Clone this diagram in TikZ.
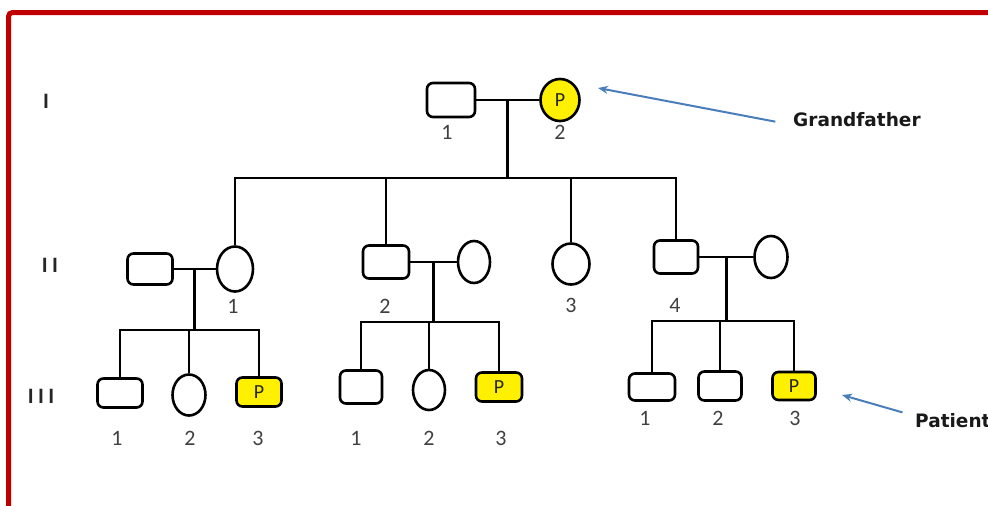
\documentclass[tikz,border=0pt]{standalone}
\usepackage{fontspec}
\setmainfont{Carlito}
\newfontfamily\romfont[LetterSpace=20]{Carlito}
\newfontfamily\tagfont{DejaVu Sans}
\usetikzlibrary{shapes.geometric,arrows.meta,calc}
\definecolor{framered}{HTML}{C00000}
\definecolor{ptrblue}{HTML}{4A7EBB}
\definecolor{hityellow}{HTML}{FFF000}
\tikzset{
	kin/.style={line width=2.7pt},
	male/.style={draw,line width=2.6pt,rounded corners=6pt,minimum width=45pt,minimum height=31pt,inner sep=0pt},
	female/.style={draw,line width=2.6pt,ellipse,minimum width=34pt,minimum height=42pt,inner sep=0pt},
	hit/.style={fill=hityellow,font=\fontsize{20}{20}\selectfont,text=black!85},
	num/.style={font=\fontsize{22}{22}\selectfont,text=black!75,inner sep=0pt},
	gen/.style={font=\romfont\bfseries\fontsize{22}{22}\selectfont,text=black!85,inner sep=0pt},
	tag/.style={font=\tagfont\bfseries\fontsize{18.5}{18.5}\selectfont,text=black!90,inner sep=0pt,anchor=west},
	pointer/.style={draw=ptrblue,line width=2pt,-{Stealth[length=10pt,width=8pt]}}
}
\begin{document}
\begin{tikzpicture}[x=1pt,y=-1pt]
		\useasboundingbox (0,0) rectangle (988,506);
		\begin{scope}
			\clip (0,0) rectangle (988,506);
			\draw[framered,line width=5pt,rounded corners=4pt] (8.5,12.5) rectangle (1100,620);
		\end{scope}
		\node[gen] (g1) at (46,101) {I};
		\node[gen] (g2) at (50,265) {II};
		\node[gen] (g3) at (41,396) {III};

		\node[male,minimum width=48pt,minimum height=34pt] (i1) at (451,100) {};
		\node[female,hit,minimum width=39pt] (i2) at (560,100) {P};
		\node[num] (i1n) at (447,132) {1};
		\node[num] (i2n) at (560,132) {2};
		\draw[kin] (i1) -- (i2);
		\coordinate (m1) at ($(i1.east)!0.5!(i2.west)$);
		\coordinate (s1) at ($(m1)+(0,78)$);
		\draw[kin] (m1) -- (s1);

		\node[male] (ii1h) at (150,269) {};
		\node[female,minimum width=36pt,minimum height=45pt] (ii1) at (235,269) {};
		\node[male,minimum width=46pt,minimum height=33pt] (ii2) at (386,262) {};
		\node[female,minimum width=32pt] (ii2w) at (474,262) {};
		\node[female,minimum width=37pt,minimum height=41pt] (ii3) at (571,264) {};
		\node[male,minimum width=44pt,minimum height=33pt] (ii4) at (676,257) {};
		\node[female,minimum width=33pt] (ii4w) at (771,257) {};
		\node[num] (ii1n) at (233,306) {1};
		\node[num] (ii2n) at (385,306) {2};
		\node[num] (ii3n) at (571,305) {3};
		\node[num] (ii4n) at (675,305) {4};
		\draw[kin] (ii1.north) |- (s1) -| (ii4.north);
		\draw[kin] (ii2.north) -- (ii2.north |- s1);
		\draw[kin] (ii3.north) -- (ii3.north |- s1);
		\draw[kin] (ii1h) -- (ii1);
		\draw[kin] (ii2) -- (ii2w);
		\draw[kin] (ii4) -- (ii4w);

		\coordinate (m2) at ($(ii1h.east)!0.5!(ii1.west)$);
		\coordinate (s2) at ($(m2)+(0,61)$);
		\node[male,minimum height=29pt] (iiia1) at (120,393) {};
		\node[female,minimum width=33pt,minimum height=41pt] (iiia2) at (189,395) {};
		\node[male,hit,minimum height=29pt] (iiia3) at (259,392) {P};
		\node[num] (iiia1n) at (117,438) {1};
		\node[num] (iiia2n) at (190,438) {2};
		\node[num] (iiia3n) at (258,438) {3};
		\draw[kin] (m2) -- (s2);
		\draw[kin] (iiia1.north) |- (s2) -| (iiia3.north);
		\draw[kin] (iiia2.north) -- (iiia2.north |- s2);

		\coordinate (m3) at ($(ii2.east)!0.5!(ii2w.west)$);
		\coordinate (s3) at ($(m3)+(0,60)$);
		\node[male,minimum width=42pt,minimum height=33pt] (iiib1) at (361,387) {};
		\node[female,minimum width=32pt,minimum height=40pt] (iiib2) at (429,390) {};
		\node[male,hit,minimum width=46pt,minimum height=29pt] (iiib3) at (499,387) {P};
		\node[num] (iiib1n) at (356,438) {1};
		\node[num] (iiib2n) at (429,438) {2};
		\node[num] (iiib3n) at (501,438) {3};
		\draw[kin] (m3) -- (s3);
		\draw[kin] (iiib1.north) |- (s3) -| (iiib3.north);
		\draw[kin] (iiib2.north) -- (iiib2.north |- s3);

		\coordinate (m4) at ($(ii4.east)!0.5!(ii4w.west)$);
		\coordinate (s4) at ($(m4)+(0,64)$);
		\node[male,minimum width=46pt,minimum height=27pt] (iiic1) at (652,387) {};
		\node[male,minimum width=43pt,minimum height=29pt] (iiic2) at (720,386) {};
		\node[male,hit,minimum width=43pt,minimum height=28pt] (iiic3) at (794,386) {P};
		\node[num] (iiic1n) at (645,418) {1};
		\node[num] (iiic2n) at (718,418) {2};
		\node[num] (iiic3n) at (795,418) {3};
		\draw[kin] (m4) -- (s4);
		\draw[kin] (iiic1.north) |- (s4) -| (iiic3.north);
		\draw[kin] (iiic2.north) -- (iiic2.north |- s4);

		\node[tag] (gf) at (793,120) {Grandfather};
		\coordinate (gftip) at (598,88);
		\draw[pointer,shorten <=18pt] ([yshift=-5pt]gf.west) -- (gftip);
		\node[tag] (pt) at (915,421) {Patient};
		\coordinate (pttip) at (842,395);
		\draw[pointer,shorten <=13pt] ([yshift=5pt]pt.west) -- (pttip);
	\end{tikzpicture}
\end{document}
